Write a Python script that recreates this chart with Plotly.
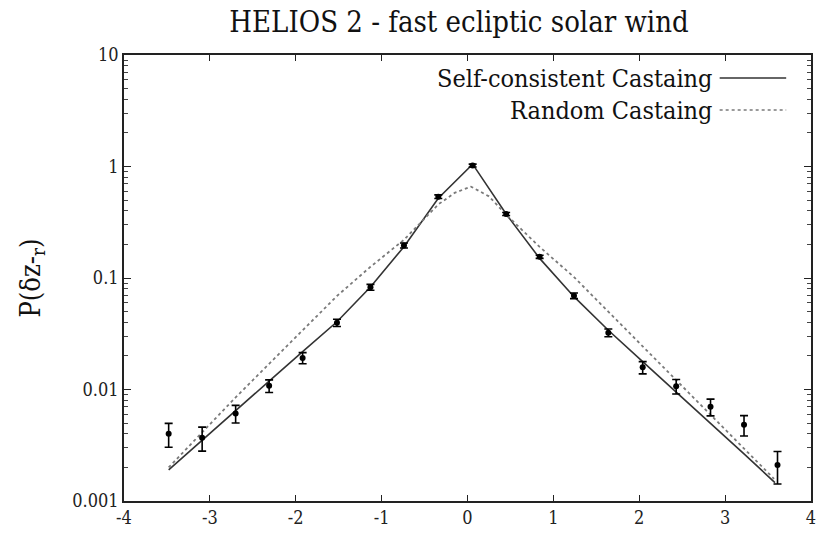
import plotly.graph_objects as go

# ---- data ----
x_data = [-3.48, -3.09, -2.70, -2.31, -1.92, -1.52, -1.13, -0.74, -0.34, 0.06,
          0.45, 0.84, 1.24, 1.64, 2.04, 2.43, 2.83, 3.22, 3.61]
p_data = [0.0040, 0.0037, 0.0061, 0.0108, 0.0192, 0.0397, 0.0826, 0.196, 0.536, 1.02,
          0.375, 0.155, 0.0693, 0.0323, 0.0158, 0.0107, 0.0070, 0.00483, 0.0021]
p_err = [0.00097, 0.0009, 0.0011, 0.0014, 0.0022, 0.003, 0.005, 0.01, 0.02, 0.03,
         0.012, 0.005, 0.004, 0.0026, 0.002, 0.0016, 0.0012, 0.001, 0.00068]

x_self = [-3.48, -3.09, -2.70, -2.31, -1.92, -1.52, -1.13, -0.74, -0.34, 0.06,
          0.45, 0.84, 1.24, 1.64, 2.04, 2.43, 2.83, 3.22, 3.58]
p_self = [0.0019, 0.00348, 0.00643, 0.0119, 0.0219, 0.0405, 0.083, 0.191, 0.52, 1.05,
          0.375, 0.150, 0.068, 0.034, 0.0178, 0.0095, 0.0050, 0.00265, 0.00146]

x_rand = [-3.48, -3.09, -2.70, -2.31, -1.92, -1.52, -1.13, -0.74, -0.34, -0.15, 0.04,
          0.25, 0.45, 0.84, 1.24, 1.64, 2.04, 2.43, 2.83, 3.22, 3.57]
p_rand = [0.0020, 0.0041, 0.0085, 0.017, 0.034, 0.069, 0.126, 0.22, 0.457, 0.58, 0.66,
          0.54, 0.37, 0.19, 0.102, 0.050, 0.0246, 0.0123, 0.0060, 0.00297, 0.00158]

y_tickvals = [0.001, 0.01, 0.1, 1, 10]
y_ticktext = ["0.001", "0.01", "0.1", "1", "10"]
x_tickvals = [-4, -3, -2, -1, 0, 1, 2, 3, 4]
x_ticktext = ["-4", "-3", "-2", "-1", "0", "1", "2", "3", "4"]

title_text = "HELIOS 2 - fast ecliptic solar wind"
legend_names = ["Self-consistent Castaing", "Random Castaing"]
y_title = "P(δz-<sub>r</sub>)"

FONT = "'DejaVu Serif Condensed', 'DejaVu Serif', serif"

fig = go.Figure()
fig.add_trace(go.Scatter(x=x_self, y=p_self, mode="lines",
                         line=dict(color="#333333", width=1.6),
                         name=legend_names[0], showlegend=False))
fig.add_trace(go.Scatter(x=x_rand, y=p_rand, mode="lines",
                         line=dict(color="#7a7a7a", width=1.8, dash="dot"),
                         name=legend_names[1], showlegend=False))
fig.add_trace(go.Scatter(x=x_data, y=p_data, mode="markers",
                         marker=dict(color="black", size=6),
                         error_y=dict(type="data", array=p_err, color="black",
                                      thickness=1.6, width=4),
                         showlegend=False))

L, R, T, B = 124, 5, 55, 33
W, H = 821, 534
pw = W - L - R
ph = H - T - B

def px_x(p):
    return (p - L) / pw

def px_y(p):
    return (H - B - p) / ph

# gnuplot-style key: text on the left, line sample on the right
for name, yy, col, dash in [(legend_names[0], 78, "#333333", "solid"),
                            (legend_names[1], 110, "#7a7a7a", "dot")]:
    fig.add_annotation(x=px_x(718), y=px_y(yy), xref="paper", yref="paper",
                       text=name, showarrow=False, xanchor="right", yanchor="middle",
                       font=dict(family=FONT, size=25, color="#111"))
    fig.add_shape(type="line", xref="paper", yref="paper",
                  x0=px_x(724), x1=px_x(791), y0=px_y(yy), y1=px_y(yy),
                  line=dict(color=col, width=1.6, dash=dash))

fig.update_layout(
    width=W, height=H,
    margin=dict(l=L, r=R, t=T, b=B),
    paper_bgcolor="white", plot_bgcolor="white",
    font=dict(family=FONT, color="#222"),
    title=dict(text=title_text, x=459 / W, xanchor="center",
               y=1 - 22 / H, yanchor="middle",
               font=dict(family=FONT, size=29, color="#111")),
)
fig.update_xaxes(range=[-4, 4], tickvals=x_tickvals, ticktext=x_ticktext,
                 ticks="inside", ticklen=6,
                 showline=True, linecolor="#222", linewidth=1.6, mirror="allticks",
                 showgrid=False, zeroline=False, tickcolor="#222", tickwidth=1.3,
                 tickfont=dict(family=FONT, size=18, color="#222"))
fig.update_yaxes(type="log", range=[-3, 1], tickvals=y_tickvals, ticktext=y_ticktext,
                 ticks="inside", ticklen=7, tickwidth=1.3,
                 showline=True, linecolor="#222", linewidth=1.6,
                 mirror="allticks", showgrid=False, zeroline=False, tickcolor="#222",
                 tickfont=dict(family=FONT, size=18, color="#222"),
                 minor=dict(ticks="inside", ticklen=4, dtick="D1", tickcolor="#444", showgrid=False),
                 title=dict(text=y_title, standoff=24,
                            font=dict(family=FONT, size=27, color="#111")))

fig.write_html("out.html")
